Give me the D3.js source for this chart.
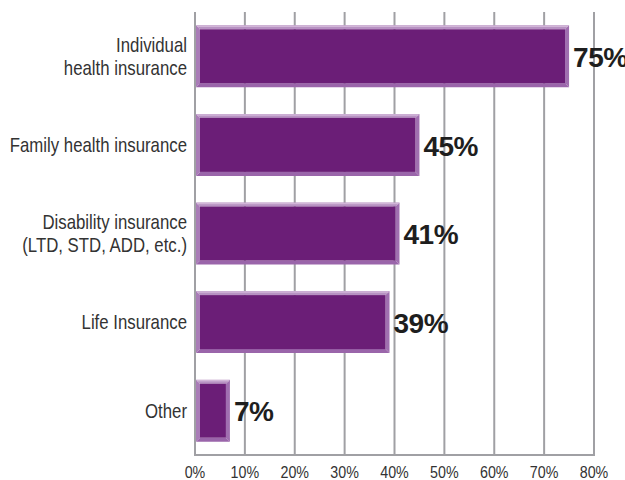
<!DOCTYPE html>
<html>
<head>
<meta charset="utf-8">
<script src="https://cdn.jsdelivr.net/npm/d3@7"></script>
<style>
  html, body { margin: 0; padding: 0; background: #ffffff; }
  svg { display: block; }
</style>
</head>
<body>
<svg id="chart" width="625" height="480"></svg>
<script>
// Insurance benefits offered, share of respondents
const categories = [
  ["Individual", "health insurance"],
  ["Family health insurance"],
  ["Disability insurance", "(LTD, STD, ADD, etc.)"],
  ["Life Insurance"],
  ["Other"]
];
const values = [75, 45, 41, 39, 7];
const tickValues = [0, 10, 20, 30, 40, 50, 60, 70, 80];

const svg = d3.select("#chart");
const plotLeft = 195, plotRight = 594, plotTop = 12, plotBottom = 455;

const x = d3.scaleLinear().domain([0, 80]).range([plotLeft, plotRight]);
const y = d3.scaleBand()
  .domain(d3.range(categories.length))
  .range([plotTop, plotBottom])
  .paddingInner(0.3)
  .paddingOuter(0.15);

// condensed look: regular sans squeezed horizontally
const sans = "'Liberation Sans', Arial, sans-serif";
const squeeze = 0.84;

// vertical grid lines
svg.append("g")
  .selectAll("line")
  .data(tickValues)
  .join("line")
  .attr("x1", d => x(d)).attr("x2", d => x(d))
  .attr("y1", plotTop).attr("y2", plotBottom)
  .attr("stroke", "#a0a0a4")
  .attr("stroke-width", 2);

// baseline
svg.append("line")
  .attr("x1", x(0) - 1).attr("x2", x(80) + 1)
  .attr("y1", plotBottom).attr("y2", plotBottom)
  .attr("stroke", "#a0a0a4")
  .attr("stroke-width", 2);

// x axis labels
svg.append("g")
  .selectAll("text")
  .data(tickValues)
  .join("text")
  .attr("transform", d => `translate(${x(d)},${plotBottom + 23}) scale(${squeeze},1)`)
  .attr("text-anchor", "middle")
  .attr("font-family", sans)
  .attr("font-size", 17)
  .attr("fill", "#333")
  .text(d => d + "%");

// bevelled bars
const b = 4;
const bars = svg.append("g")
  .selectAll("g")
  .data(values)
  .join("g");

function poly(pts) { return pts.map(p => p.join(",")).join(" "); }

bars.each(function(v, i) {
  const g = d3.select(this);
  const x0 = x(0) + 1, x1 = x(v), y0 = y(i), y1 = y(i) + y.bandwidth();
  // top edge
  g.append("polygon")
    .attr("points", poly([[x0, y0], [x1, y0], [x1 - b, y0 + b], [x0 + b, y0 + b]]))
    .attr("fill", "#b792c2");
  // left edge
  g.append("polygon")
    .attr("points", poly([[x0, y0], [x0 + b, y0 + b], [x0 + b, y1 - b], [x0, y1]]))
    .attr("fill", "#a97cb7");
  // right edge
  g.append("polygon")
    .attr("points", poly([[x1, y0], [x1, y1], [x1 - b, y1 - b], [x1 - b, y0 + b]]))
    .attr("fill", "#a06fb0");
  // bottom edge
  g.append("polygon")
    .attr("points", poly([[x0, y1], [x0 + b, y1 - b], [x1 - b, y1 - b], [x1, y1]]))
    .attr("fill", "#9a65aa");
  // face
  g.append("rect")
    .attr("x", x0 + b).attr("y", y0 + b)
    .attr("width", Math.max(0, x1 - x0 - 2 * b))
    .attr("height", y.bandwidth() - 2 * b)
    .attr("fill", "#6b1e77");
  // top highlight
  g.append("line")
    .attr("x1", x0 + 1).attr("x2", x1 - 1)
    .attr("y1", y0 + 1).attr("y2", y0 + 1)
    .attr("stroke", "#d2b6d8").attr("stroke-width", 1.5);
});

// value labels
bars.append("text")
  .attr("x", (d) => x(d) + 4)
  .attr("y", (d, i) => y(i) + y.bandwidth() / 2)
  .attr("dy", "0.38em")
  .attr("font-family", sans)
  .attr("font-weight", "bold")
  .attr("font-size", 28)
  .attr("letter-spacing", -0.5)
  .attr("fill", "#1e1e1e")
  .text(d => d + "%");

// category labels
const lineH = 23;
svg.append("g")
  .selectAll("text")
  .data(categories)
  .join("text")
  .attr("transform", (d, i) => {
    const cy = y(i) + y.bandwidth() / 2;
    return `translate(${plotLeft - 8},${cy}) scale(${squeeze},1)`;
  })
  .attr("text-anchor", "end")
  .attr("font-family", sans)
  .attr("font-size", 20)
  .attr("fill", "#333")
  .each(function(lines) {
    const t = d3.select(this);
    const startY = -(lines.length - 1) * lineH / 2;
    lines.forEach((ln, k) => {
      t.append("tspan")
        .attr("x", 0)
        .attr("y", startY + k * lineH)
        .attr("dy", "0.35em")
        .text(ln);
    });
  });
</script>
</body>
</html>
